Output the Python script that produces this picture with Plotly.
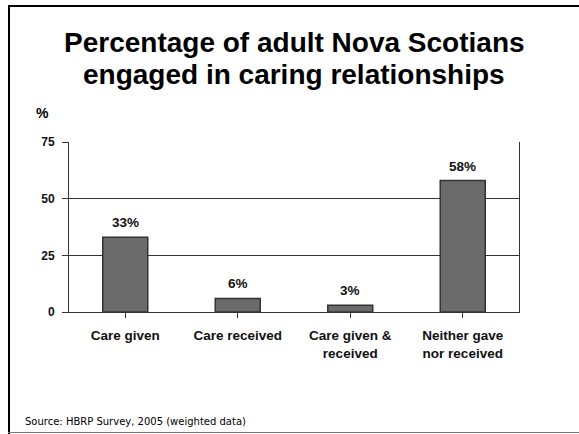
import plotly.graph_objects as go

categories = ["Care given", "Care received", "Care given &<br>received", "Neither gave<br>nor received"]
values = [33, 6, 3, 58]
value_labels = ["33%", "6%", "3%", "58%"]
y_ticks = [0, 25, 50, 75]

title_lines = ["Percentage of adult Nova Scotians", "engaged in caring relationships"]
source_text = "Source: HBRP Survey, 2005 (weighted data)"

W, H = 579, 434
L, R, T, B = 69, 60, 142, 122
pw, ph = W - L - R, H - T - B

def px(x):
    return (x - L) / pw

def py(y):
    return (H - B - y) / ph

FONT = "Liberation Sans, Arial, sans-serif"

fig = go.Figure()
fig.add_trace(go.Bar(
    x=list(range(len(categories))),
    y=values,
    marker=dict(color="#6b6b6b", line=dict(color="#333333", width=1.5)),
    hoverinfo="skip",
))

annotations = []
for i, (v, lab) in enumerate(zip(values, value_labels)):
    annotations.append(dict(x=i, y=v, xref="x", yref="y", text="<b>%s</b>" % lab,
                            showarrow=False, yanchor="bottom", yshift=5,
                            font=dict(family=FONT, size=13.5, color="#111")))

annotations.append(dict(x=px(294), y=py(42), xref="paper", yref="paper",
                        text="<b>%s</b>" % title_lines[0], showarrow=False,
                        xanchor="center", yanchor="middle",
                        font=dict(family=FONT, size=28, color="#000")))
annotations.append(dict(x=px(294), y=py(74), xref="paper", yref="paper",
                        text="<b>%s</b>" % title_lines[1], showarrow=False,
                        xanchor="center", yanchor="middle",
                        font=dict(family=FONT, size=28, color="#000")))
annotations.append(dict(x=px(42), y=py(113), xref="paper", yref="paper",
                        text="<b>%</b>", showarrow=False,
                        xanchor="center", yanchor="middle",
                        font=dict(family=FONT, size=14, color="#000")))
annotations.append(dict(x=px(23), y=py(421), xref="paper", yref="paper",
                        text=source_text, showarrow=False,
                        xanchor="left", yanchor="middle",
                        font=dict(family="DejaVu Sans, sans-serif", size=10, color="#000")))

shapes = [
    dict(type="line", xref="paper", yref="paper", x0=px(9), x1=px(9), y0=py(5), y1=py(434),
         line=dict(color="#000", width=2)),
    dict(type="line", xref="paper", yref="paper", x0=px(8), x1=px(590), y0=py(6), y1=py(6),
         line=dict(color="#000", width=2)),
    dict(type="line", xref="paper", yref="paper", x0=px(8), x1=px(590), y0=py(432.5), y1=py(432.5),
         line=dict(color="#777", width=1)),
]

fig.update_layout(
    width=W, height=H,
    margin=dict(l=L, r=R, t=T, b=B, pad=0),
    paper_bgcolor="white", plot_bgcolor="white",
    showlegend=False,
    bargap=0.6,
    annotations=annotations,
    shapes=shapes,
    font=dict(family=FONT, color="#000"),
    xaxis=dict(
        tickmode="array", tickvals=list(range(len(categories))),
        ticktext=["<b>%s</b>" % c for c in categories],
        range=[-0.5, len(categories) - 0.5],
        showgrid=False, zeroline=False,
        showline=True, linecolor="#333", linewidth=1,
        ticks="outside", ticklen=5, tickcolor="#333", tickwidth=1,
        tickfont=dict(family=FONT, size=13.5, color="#111"),
        ticklabelstandoff=6,
        fixedrange=True,
    ),
    yaxis=dict(
        range=[0, 75], tickvals=y_ticks,
        ticktext=["<b>%d</b>" % t for t in y_ticks],
        showgrid=True, gridcolor="#333", gridwidth=1,
        zeroline=False,
        showline=True, linecolor="#333", linewidth=1, mirror=True,
        ticks="outside", ticklen=6, tickcolor="#333", tickwidth=1,
        tickfont=dict(family=FONT, size=12, color="#111"),
        ticklabelstandoff=5,
        fixedrange=True,
    ),
)

# category boundary ticks on the x axis
fig.update_xaxes(tickson="boundaries")

fig.write_html("out.html", config={"displayModeBar": False})
